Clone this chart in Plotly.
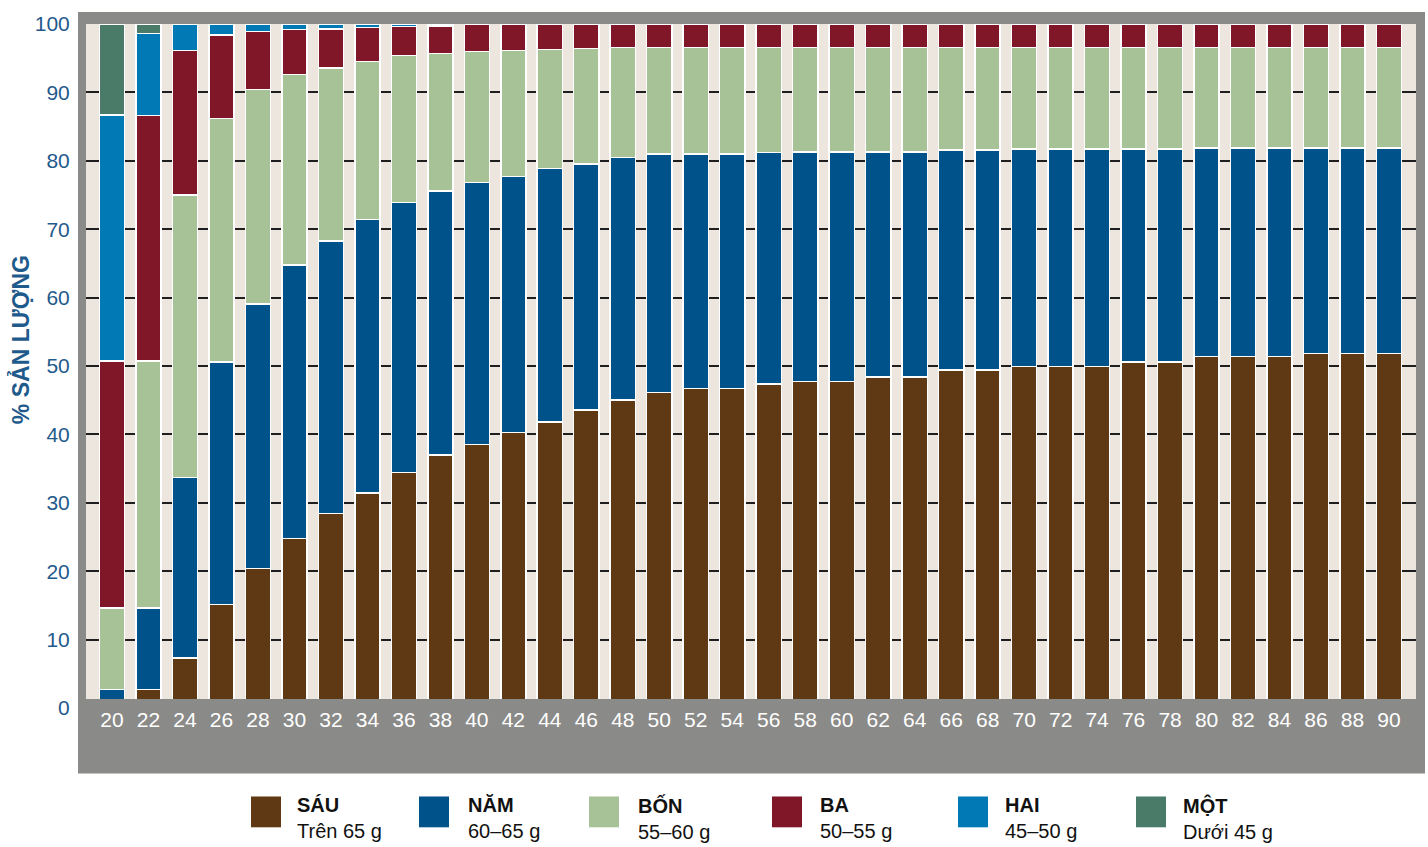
import plotly.graph_objects as go

# age of hens (weeks)
ages = [20, 22, 24, 26, 28, 30, 32, 34, 36, 38, 40, 42, 44, 46, 48, 50, 52, 54,
        56, 58, 60, 62, 64, 66, 68, 70, 72, 74, 76, 78, 80, 82, 84, 86, 88, 90]

# share of production per egg-size class (%)
sau = [0, 2.7, 7.3, 15.1, 20.4, 24.8, 28.4, 31.4, 34.4, 37.0, 38.5, 40.3, 41.8, 43.6, 45.0, 46.1, 46.7, 46.7,
       47.4, 47.7, 47.7, 48.4, 48.4, 49.4, 49.4, 49.9, 49.9, 49.9, 50.6, 50.6, 51.4, 51.4, 51.4, 51.8, 51.8, 51.8]
nam = [2.7, 11.9, 26.4, 35.5, 38.7, 40.0, 39.9, 40.0, 39.5, 38.6, 38.3, 37.4, 37.1, 35.9, 35.5, 34.9, 34.3, 34.3,
       33.8, 33.6, 33.6, 32.9, 32.9, 32.2, 32.2, 31.8, 31.8, 31.8, 31.1, 31.1, 30.5, 30.5, 30.5, 30.1, 30.1, 30.1]
bon = [11.9, 36.1, 41.3, 35.6, 31.3, 27.8, 25.3, 23.1, 21.5, 20.1, 19.2, 18.4, 17.4, 16.9, 16.1, 15.6, 15.6, 15.6,
       15.4, 15.3, 15.3, 15.3, 15.3, 15.0, 15.0, 14.9, 14.9, 14.9, 14.9, 14.9, 14.7, 14.7, 14.7, 14.7, 14.7, 14.7]
ba = [36.1, 35.9, 21.1, 12.2, 8.5, 6.6, 5.7, 5.0, 4.2, 4.0, 4.0, 3.9, 3.7, 3.6, 3.4, 3.4, 3.4, 3.4,
      3.4, 3.4, 3.4, 3.4, 3.4, 3.4, 3.4, 3.4, 3.4, 3.4, 3.4, 3.4, 3.4, 3.4, 3.4, 3.4, 3.4, 3.4]
hai = [36.0, 12.0, 3.9, 1.6, 1.1, 0.8, 0.7, 0.5, 0.4, 0.3, None, None, None, None, None, None, None, None,
       None, None, None, None, None, None, None, None, None, None, None, None, None, None, None, None, None, None]
mot = [13.3, 1.4, None, None, None, None, None, None, None, None, None, None, None, None, None, None, None, None,
       None, None, None, None, None, None, None, None, None, None, None, None, None, None, None, None, None, None]

series_names = ["SÁU", "NĂM", "BỐN", "BA", "HAI", "MỘT"]
series_ranges = ["Trên 65 g", "60–65 g", "55–60 g", "50–55 g", "45–50 g", "Dưới 45 g"]
series_values = [sau, nam, bon, ba, hai, mot]
series_colors = ["#5e3914", "#00528a", "#a8c297", "#7f1729", "#0079b5", "#4a7b69"]

y_ticks = [0, 10, 20, 30, 40, 50, 60, 70, 80, 90, 100]

W, H = 1428, 847
LEFT, RIGHT, TOP, BOTTOM = 86, 1416, 20, 708   # plot box in px (y axis 0..100)
BAND_TOP = 699                                  # grey x band covers the base of the bars
NARROW = "Liberation Sans Narrow, Liberation Sans, Arial, sans-serif"
SANS = "Liberation Sans, Arial, sans-serif"
BLUE_TXT = "#1f5a8c"


def px_x(v):
    return (v - LEFT) / (RIGHT - LEFT)


def px_y(v):
    return (BOTTOM - v) / (BOTTOM - TOP)


fig = go.Figure()
for name, values, color in zip(series_names, series_values, series_colors):
    fig.add_trace(
        go.Bar(
            x=ages,
            y=values,
            name=name,
            marker=dict(color=color, line=dict(color="white", width=1.5)),
            showlegend=False,
        )
    )
# empty trace so the free percentage axis gets drawn
fig.add_trace(go.Scatter(x=[], y=[], yaxis="y2", showlegend=False, hoverinfo="skip"))

y_floor = 100 * (BOTTOM - BAND_TOP) / (BOTTOM - TOP)

shapes = [
    # grey frame and beige plotting field
    dict(type="rect", xref="paper", yref="paper", layer="below", line_width=0, fillcolor="#8a8a88",
         x0=px_x(78), x1=px_x(1425), y0=px_y(774), y1=px_y(8)),
    dict(type="rect", xref="paper", yref="paper", layer="below", line_width=0, fillcolor="#ede6de",
         x0=0, x1=1, y0=px_y(BAND_TOP), y1=1),
]

annotations = [
    dict(text="% SẢN LƯỢNG", xref="paper", yref="paper", x=px_x(20), y=px_y(338), textangle=-90,
         showarrow=False, xanchor="center", yanchor="middle",
         font=dict(family=SANS, size=23, color=BLUE_TXT, weight="bold")),
]

# legend below the chart
swatch_x = [251, 419, 589, 772, 958, 1136]
label_x = [295, 466, 636, 818, 1003, 1181]
for sx, lx, name, rng, color in zip(swatch_x, label_x, series_names, series_ranges, series_colors):
    shapes.append(dict(type="rect", xref="paper", yref="paper", line_width=0, fillcolor=color,
                       x0=px_x(sx), x1=px_x(sx + 30), y0=px_y(828), y1=px_y(797)))
    annotations.append(dict(text=f"<b>{name}</b><br>{rng}", xref="paper", yref="paper",
                            x=px_x(lx), y=px_y(792), xanchor="left", yanchor="top", align="left",
                            showarrow=False, font=dict(family=SANS, size=20, color="#111111")))

fig.update_layout(
    width=W,
    height=H,
    autosize=False,
    margin=dict(l=LEFT, r=W - RIGHT, t=TOP, b=H - BOTTOM, pad=0),
    barmode="stack",
    bargap=0.31,
    paper_bgcolor="white",
    plot_bgcolor="rgba(0,0,0,0)",
    showlegend=False,
    shapes=shapes,
    annotations=annotations,
    xaxis=dict(
        range=[18.575, 91.48],
        tickvals=ages,
        tickfont=dict(family=NARROW, size=21, color="white"),
        ticks="outside", ticklen=2, tickcolor="rgba(0,0,0,0)",
        showgrid=False, zeroline=False, showline=False,
    ),
    yaxis=dict(
        domain=[(BOTTOM - BAND_TOP) / (BOTTOM - TOP), 1],
        range=[y_floor, 100],
        tickvals=y_ticks[1:-1],
        showticklabels=False,
        showgrid=True, gridcolor="#1e1e1e", gridwidth=2,
        zeroline=False, showline=False, ticks="",
    ),
    yaxis2=dict(
        domain=[0, 1],
        range=[0, 100],
        anchor="free",
        position=0,
        side="left",
        tickvals=y_ticks,
        tickfont=dict(family=NARROW, size=21, color=BLUE_TXT),
        ticks="outside", ticklen=12, tickcolor="rgba(0,0,0,0)",
        showgrid=False, zeroline=False, showline=False,
    ),
)

fig.write_html(
    "out.html",
    config={"displayModeBar": False},
    post_script="document.body.style.margin = '0px';",
)
